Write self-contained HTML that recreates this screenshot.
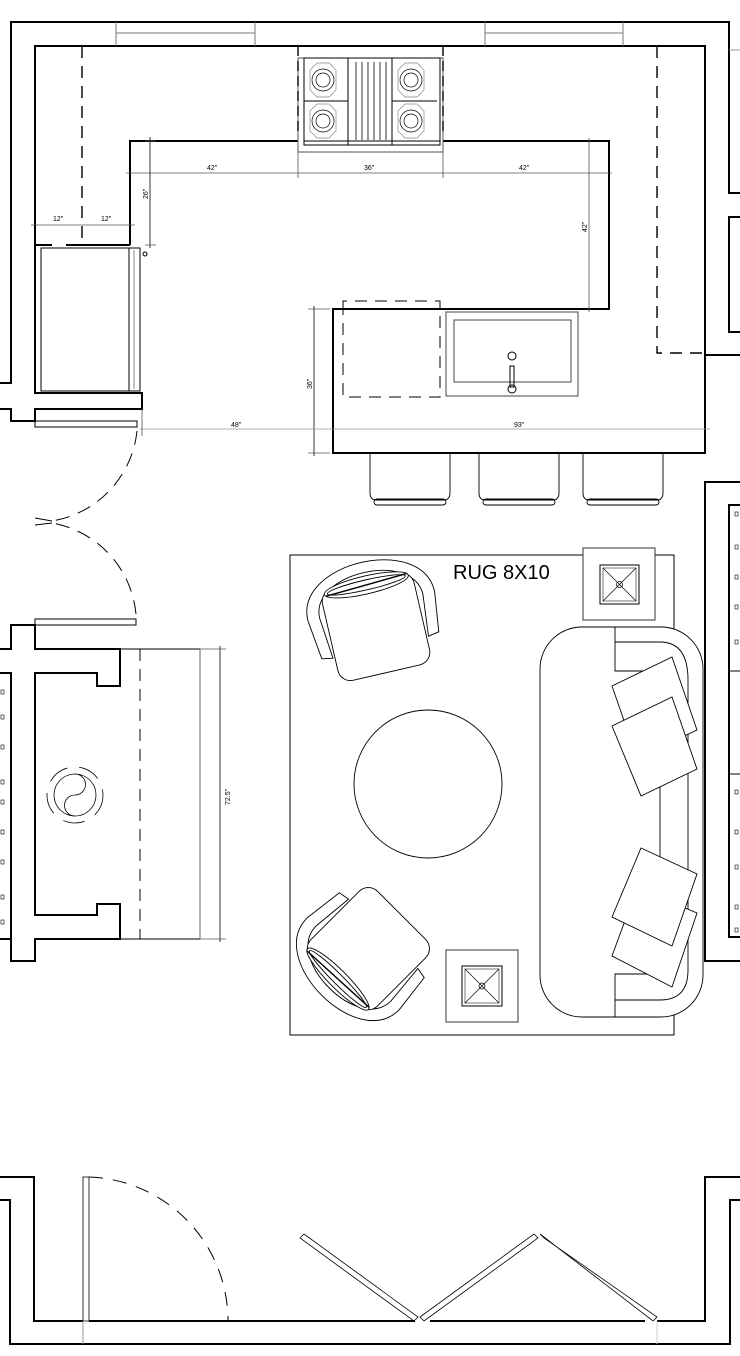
<!DOCTYPE html>
<html><head><meta charset="utf-8"><style>
html,body{margin:0;padding:0;background:#fff;}
svg{display:block;}
text{font-family:"Liberation Sans",sans-serif;}
</style></head><body>
<svg width="740" height="1356" viewBox="0 0 740 1356" xmlns="http://www.w3.org/2000/svg">
<defs>
<g id="chair" fill="#fff" stroke="#000" stroke-width="0.9">
  <path d="M-60,28 L-65,-12 C-66,-72 66,-72 65,-12 L60,28 L49,30 L53,-12 C53,-58 -53,-58 -53,-12 L-49,30 Z"/>
  <rect x="-47" y="-38" width="94" height="94" rx="13"/>
  <ellipse cx="0" cy="-34" rx="43" ry="9"/>
  <ellipse cx="0" cy="-34" rx="40" ry="5"/>
  <line x1="-42" y1="-32" x2="42" y2="-36" stroke-width="1.4"/>
</g>
<g id="stool" fill="none" stroke="#000" stroke-width="0.9">
  <path d="M0,0 L0,40 Q0,46 5,47 L75,47 Q80,46 80,40 L80,0"/>
  <rect x="4" y="46" width="72" height="6" rx="3"/>
</g>
</defs>

<g fill="none" stroke="#000" stroke-width="2">
  <!-- top & outer walls -->
  <polyline points="0,383 11,383 11,22 729,22 729,193 740,193"/>
  <polyline points="35,393 35,46 705,46 705,355 740,355"/>
  <polyline points="35,245 35,393 142,393 142,409 35,409 35,421 11,421 11,409 0,409"/>
  <!-- fireplace wall -->
  <polyline points="0,649 11,649 11,625 35,625 35,649 120,649 120,686 97,686 97,673 35,673 35,915 97,915 97,904 120,904 120,939 35,939 35,961 11,961 11,939 0,939"/>
  <polyline points="0,673 11,673 11,939"/>
  <!-- right lower wall -->
  <polyline points="740,482 705,482 705,961 740,961"/>
  <rect x="729" y="217" width="14" height="115"/>
  <rect x="729" y="505" width="14" height="432"/>
  <!-- bottom walls -->
  <polyline points="0,1177 34,1177 34,1321 83,1321"/>
  <line x1="89" y1="1321" x2="415" y2="1321"/>
  <line x1="430" y1="1321" x2="645" y2="1321"/>
  <polyline points="657,1321 705,1321 705,1177 740,1177"/>
  <polyline points="0,1200 10,1200 10,1344 730,1344 730,1200 740,1200"/>
  <!-- kitchen counters -->
  <polyline points="298,141 130,141 130,245"/>
  <polyline points="443,141 609,141 609,309 333,309 333,453 705,453 705,355"/>
  <line x1="35" y1="245" x2="52" y2="245"/>
  <line x1="66" y1="245" x2="130" y2="245"/>
</g>

<g fill="none" stroke="#000" stroke-width="1">
  <line x1="729" y1="671" x2="740" y2="671"/>
  <line x1="729" y1="774" x2="740" y2="774"/>
  <!-- windows top -->
  <line x1="116" y1="22" x2="116" y2="46" stroke="#777"/>
  <line x1="255" y1="22" x2="255" y2="46" stroke="#777"/>
  <line x1="116" y1="33" x2="255" y2="33" stroke="#777"/>
  <line x1="485" y1="22" x2="485" y2="46" stroke="#777"/>
  <line x1="623" y1="22" x2="623" y2="46" stroke="#777"/>
  <line x1="485" y1="33" x2="623" y2="33" stroke="#777"/>
  <line x1="729" y1="50" x2="740" y2="50" stroke="#999"/>
  <!-- dashed upper cabinets -->
  <line x1="82" y1="46" x2="82" y2="245" stroke-dasharray="12,8" stroke-width="1.4"/>
  <polyline points="657,46 657,353 705,353" stroke-dasharray="12,8" stroke-width="1.4"/>
  <!-- fridge -->
  <rect x="41" y="248" width="88" height="143"/>
  <rect x="129" y="248" width="11" height="143"/>
  <line x1="134" y1="250" x2="134" y2="389" stroke="#888"/>
  <circle cx="145" cy="254" r="2"/>
  <!-- stove -->
  <rect x="298" y="58" width="145" height="94" stroke="#555"/>
  <rect x="304" y="58" width="136" height="87"/>
  <line x1="304" y1="141" x2="440" y2="141"/>
  <line x1="348" y1="58" x2="348" y2="145"/>
  <line x1="392" y1="58" x2="392" y2="145"/>
  <line x1="304" y1="101" x2="348" y2="101"/>
  <line x1="392" y1="101" x2="437" y2="101"/>
  <g stroke-width="0.8">
    <line x1="356" y1="62" x2="356" y2="140"/><line x1="362" y1="62" x2="362" y2="140"/>
    <line x1="368" y1="62" x2="368" y2="140"/><line x1="374" y1="62" x2="374" y2="140"/>
    <line x1="380" y1="62" x2="380" y2="140"/><line x1="386" y1="62" x2="386" y2="140"/>
  </g>
  <g stroke-width="0.7">
    <circle cx="323" cy="80" r="11"/><circle cx="323" cy="80" r="7"/>
    <circle cx="323" cy="121" r="11"/><circle cx="323" cy="121" r="7"/>
    <circle cx="411" cy="80" r="11"/><circle cx="411" cy="80" r="7"/>
    <circle cx="411" cy="121" r="11"/><circle cx="411" cy="121" r="7"/>
    <polygon points="310,70 317,63 329,63 336,70 336,90 329,97 317,97 310,90" stroke="#888"/>
    <polygon points="310,111 317,104 329,104 336,111 336,131 329,138 317,138 310,131" stroke="#888"/>
    <polygon points="398,70 405,63 417,63 424,70 424,90 417,97 405,97 398,90" stroke="#888"/>
    <polygon points="398,111 405,104 417,104 424,111 424,131 417,138 405,138 398,131" stroke="#888"/>
  </g>
  <line x1="298" y1="46" x2="298" y2="132" stroke-dasharray="10,5" stroke-width="1.4"/>
  <line x1="443" y1="46" x2="443" y2="132" stroke-dasharray="10,5" stroke-width="1.4"/>
  <!-- dishwasher dashed -->
  <polyline points="343,309 343,301 440,301 440,397 343,397 343,309" stroke-dasharray="12,8"/>
  <!-- sink -->
  <rect x="446" y="312" width="132" height="84" stroke="#444"/>
  <rect x="454" y="320" width="117" height="62" stroke="#444"/>
  <circle cx="512" cy="356" r="4"/>
  <circle cx="512" cy="389" r="4"/>
  <rect x="510" y="366" width="4" height="21"/>
</g>

<!-- dimensions -->
<g fill="none" stroke="#555" stroke-width="0.8">
  <line x1="126" y1="173" x2="612" y2="173"/>
  <line x1="298" y1="152" x2="298" y2="178"/>
  <line x1="443" y1="152" x2="443" y2="178"/>
  <line x1="31" y1="225" x2="135" y2="225"/>
  <line x1="150" y1="137" x2="150" y2="248" stroke="#000"/>
  <line x1="145" y1="141" x2="156" y2="141"/>
  <line x1="145" y1="245" x2="156" y2="245"/>
  <line x1="589" y1="138" x2="589" y2="312"/>
  <line x1="314" y1="306" x2="314" y2="456" stroke="#000"/>
  <line x1="308" y1="309" x2="330" y2="309"/>
  <line x1="308" y1="453" x2="330" y2="453"/>
  <line x1="140" y1="429" x2="710" y2="429" stroke="#999"/>
  <line x1="142" y1="409" x2="142" y2="436"/>
  <line x1="220" y1="646" x2="220" y2="942" stroke="#000"/>
  <line x1="200" y1="649" x2="226" y2="649"/>
  <line x1="200" y1="939" x2="226" y2="939"/>
</g>
<g font-size="7" fill="#000">
  <text x="207" y="170">42"</text>
  <text x="364" y="170">36"</text>
  <text x="519" y="170">42"</text>
  <text x="53" y="221">12"</text>
  <text x="101" y="221">12"</text>
  <text x="231" y="427">48"</text>
  <text x="514" y="427">93"</text>
  <text transform="translate(148,199) rotate(-90)">26"</text>
  <text transform="translate(587,232) rotate(-90)">42"</text>
  <text transform="translate(312,389) rotate(-90)">36"</text>
  <text transform="translate(230,805) rotate(-90)">72.5"</text>
</g>

<!-- doors left -->
<g fill="none" stroke="#000" stroke-width="1">
  <rect x="35" y="421" width="102" height="6"/>
  <rect x="35" y="619" width="101" height="6"/>
  <path d="M137,431 A102,102 0 0 1 52,521" stroke-dasharray="14,9"/>
  <path d="M136,614 A102,102 0 0 0 52,523" stroke-dasharray="14,9"/>
  <line x1="35" y1="518" x2="52" y2="521"/>
  <line x1="35" y1="525" x2="52" y2="523"/>
  <!-- fireplace hearth -->
  <line x1="120" y1="649" x2="200" y2="649"/>
  <line x1="120" y1="939" x2="200" y2="939"/>
  <line x1="200" y1="649" x2="200" y2="939" stroke="#666"/>
  <line x1="140" y1="649" x2="140" y2="939" stroke-dasharray="12,8"/>
  <circle cx="75" cy="795" r="21" stroke-width="0.8"/>
  <path d="M75,774 A10.5,10.5 0 0 1 75,795 A10.5,10.5 0 0 0 75,816" stroke-width="0.8"/>
  <circle cx="75" cy="795" r="28" stroke-width="0.8" stroke-dasharray="22,12"/>
  <g stroke-width="0.6">
    <rect x="1" y="690" width="3" height="4"/><rect x="1" y="715" width="3" height="4"/>
    <rect x="1" y="745" width="3" height="4"/><rect x="1" y="780" width="3" height="4"/>
    <rect x="1" y="800" width="3" height="4"/><rect x="1" y="830" width="3" height="4"/>
    <rect x="1" y="860" width="3" height="4"/><rect x="1" y="895" width="3" height="4"/>
    <rect x="1" y="920" width="3" height="4"/>
  </g>
  <g stroke-width="0.6">
    <rect x="735" y="512" width="3" height="4"/><rect x="735" y="545" width="3" height="4"/>
    <rect x="735" y="575" width="3" height="4"/><rect x="735" y="605" width="3" height="4"/>
    <rect x="735" y="640" width="3" height="4"/><rect x="735" y="790" width="3" height="4"/>
    <rect x="735" y="830" width="3" height="4"/><rect x="735" y="865" width="3" height="4"/>
    <rect x="735" y="905" width="3" height="4"/><rect x="735" y="928" width="3" height="4"/>
  </g>
  <!-- bottom doors -->
  <rect x="83" y="1177" width="6" height="144" stroke-width="0.8"/>
  <line x1="83" y1="1321" x2="83" y2="1344" stroke="#999"/>
  <line x1="657" y1="1321" x2="657" y2="1344" stroke="#ccc"/>
  <path d="M89,1177 A144,144 0 0 1 228,1321" stroke-dasharray="14,10"/>
  <g stroke-width="0.8">
    <polygon points="300,1238 304,1234 418,1317 414,1321"/>
    <polygon points="420,1317 534,1234 538,1238 424,1321"/>
    <polygon points="540,1234 544,1238 657,1317 653,1321"/>
  </g>
</g>

<!-- stools -->
<use href="#stool" x="370" y="453"/>
<use href="#stool" x="479" y="453"/>
<use href="#stool" x="583" y="453"/>

<!-- rug -->
<rect x="290" y="555" width="384" height="480" fill="none" stroke="#000" stroke-width="1"/>
<text x="453" y="579" font-size="20" fill="#000">RUG 8X10</text>

<g fill="#fff" stroke="#000" stroke-width="1">
  <rect x="583" y="548" width="72" height="72" stroke="#333"/>
  <rect x="600" y="565" width="39" height="39"/>
  <rect x="603" y="568" width="33" height="33" stroke="#777"/>
  <path d="M603,568 L636,601 M636,568 L603,601" stroke-width="0.7"/>
  <circle cx="619.5" cy="584.5" r="3" fill="none" stroke-width="0.7"/>
  <rect x="446" y="950" width="72" height="72" stroke="#333"/>
  <rect x="462" y="966" width="40" height="40"/>
  <rect x="465" y="969" width="34" height="34" stroke="#777"/>
  <path d="M465,969 L499,1003 M499,969 L465,1003" stroke-width="0.7"/>
  <circle cx="482" cy="986" r="3" fill="none" stroke-width="0.7"/>
  <!-- coffee table -->
  <circle cx="428" cy="784" r="74" fill="none" stroke-width="0.9"/>
  <!-- sofa -->
  <rect x="540" y="627" width="163" height="390" rx="42" stroke-width="0.9"/>
  <path d="M615,627 L615,671 L660,671 M615,642 L660,642 Q688,642 688,680 L688,970 Q688,1000 660,1000 L615,1000 M615,1017 L615,974 L655,974 M660,671 L660,974" fill="none" stroke-width="0.9"/>
  <polygon points="612,686 672,657 697,730 637,758" stroke-width="0.9"/>
  <polygon points="612,726 672,697 697,769 641,796" stroke-width="0.9"/>
  <polygon points="612,956 637,888 697,913 672,987" stroke-width="0.9"/>
  <polygon points="641,848 697,874 672,946 612,917" stroke-width="0.9"/>
</g>

<!-- chairs -->
<use href="#chair" transform="translate(374,618) rotate(-13)"/>
<use href="#chair" transform="translate(362,955) rotate(-135)"/>
</svg>
</body></html>
